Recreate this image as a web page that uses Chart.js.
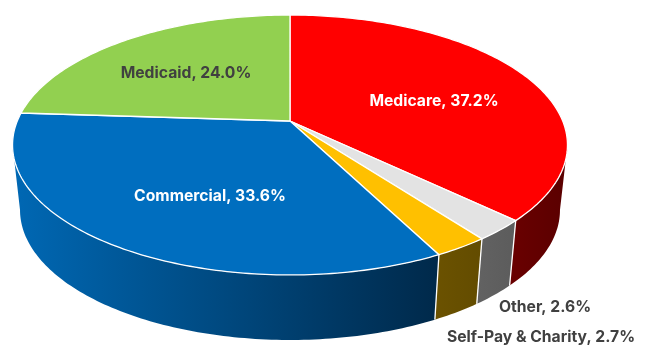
<!DOCTYPE html>
<html>
<head>
<meta charset="utf-8">
<script src="https://cdn.jsdelivr.net/npm/chart.js@4"></script>
<style>
  html, body { margin: 0; padding: 0; background: #fff; }
  canvas { display: block; }
</style>
</head>
<body>
<canvas id="payerChart" width="646" height="360"></canvas>
<script>
// Payer mix, clockwise from 12 o'clock
const payers = ['Medicare', 'Other', 'Self-Pay & Charity', 'Commercial', 'Medicaid'];
const shares = [37.2, 2.6, 2.7, 33.6, 24.0];

const topColors = ['#ff0000', '#e3e3e3', '#ffc000', '#006ebf', '#92d050'];
const sideLeftColors = ['#6a0000', '#626262', '#6b5200', '#0068b4', '#4f8020'];
const sideRightColors = ['#5a0000', '#5c5c5c', '#634c00', '#00294a', '#4f8020'];
const labelColors = ['#ffffff', '#404040', '#404040', '#ffffff', '#404040'];

// Perspective of the tilted disc
const view = { cx: 290, cy: 121, rx: 272.7, ry: 103.2, k: -0.1846, depth: 65, shrink: 0.973 };
const labelSpots = [[434, 101], [545, 307], [541, 337], [210, 196], [186, 73]];

// Walls only show on the front of the disc, between the left and right extremes
const wallFrom = Math.asin(-view.k);
const wallTo = Math.PI - wallFrom;

function project(angle) {
    const u = Math.cos(angle), v = Math.sin(angle);
    const w = 1 + view.k * v;
    return { x: view.cx + view.rx * u / w, y: (view.cy + view.ry * v) / w };
}

function lower(p) {
    return { x: view.cx + (p.x - view.cx) * view.shrink, y: p.y + view.depth };
}

function arcPoints(start, end) {
    const steps = Math.max(2, Math.ceil((end - start) * 60));
    const pts = [];
    for (let i = 0; i <= steps; i++) {
        pts.push(project(start + (end - start) * i / steps));
    }
    return pts;
}

function tracePath(ctx, pts) {
    ctx.beginPath();
    pts.forEach((p, i) => i ? ctx.lineTo(p.x, p.y) : ctx.moveTo(p.x, p.y));
    ctx.closePath();
}

// Draws the pie's own arcs as a 3D disc: side walls first, then the top face
const disc3d = {
    id: 'disc3d',
    beforeDatasetsDraw(chart) {
        const ctx = chart.ctx;
        const arcs = chart.getDatasetMeta(0).data;
        ctx.save();
        ctx.lineJoin = 'round';

        arcs.forEach((arc, i) => {
            const from = Math.max(arc.startAngle, wallFrom);
            const to = Math.min(arc.endAngle, wallTo);
            if (to <= from) return;
            const rim = arcPoints(from, to);
            const wall = rim.concat(rim.map(lower).reverse());
            const xs = wall.map(p => p.x);
            const grad = ctx.createLinearGradient(Math.min(...xs), 0, Math.max(...xs), 0);
            grad.addColorStop(0, sideLeftColors[i]);
            grad.addColorStop(1, sideRightColors[i]);
            tracePath(ctx, wall);
            ctx.fillStyle = grad;
            ctx.fill();
        });

        // white seams between the walls
        ctx.strokeStyle = '#ffffff';
        ctx.lineWidth = 1.3;
        arcs.forEach(arc => {
            if (arc.startAngle > wallFrom && arc.startAngle < wallTo) {
                const p = project(arc.startAngle);
                const q = lower(p);
                ctx.beginPath();
                ctx.moveTo(p.x, p.y);
                ctx.lineTo(q.x, q.y);
                ctx.stroke();
            }
        });

        arcs.forEach((arc, i) => {
            const rim = arcPoints(arc.startAngle, arc.endAngle);
            tracePath(ctx, [{ x: view.cx, y: view.cy }].concat(rim));
            ctx.fillStyle = topColors[i];
            ctx.fill();
            ctx.stroke();
        });
        ctx.restore();
        return false;
    },
    afterDraw(chart) {
        const ctx = chart.ctx;
        ctx.save();
        ctx.font = '700 15.7px Inter, "Open Sans", sans-serif';
        ctx.textAlign = 'center';
        ctx.textBaseline = 'middle';
        payers.forEach((name, i) => {
            ctx.fillStyle = labelColors[i];
            ctx.fillText(name + ', ' + shares[i].toFixed(1) + '%', labelSpots[i][0], labelSpots[i][1]);
        });
        ctx.restore();
    }
};

new Chart(document.getElementById('payerChart'), {
    type: 'pie',
    data: {
        labels: payers,
        datasets: [{ data: shares, backgroundColor: topColors }]
    },
    options: {
        responsive: false,
        animation: false,
        plugins: {
            legend: { display: false },
            tooltip: { enabled: false }
        }
    },
    plugins: [disc3d]
});
</script>
</body>
</html>
